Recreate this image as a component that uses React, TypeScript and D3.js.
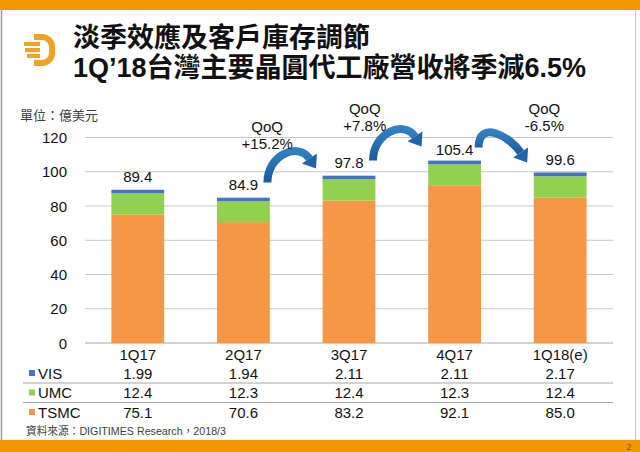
import React from "react";
import * as d3 from "d3";

// ---------- data ----------
const categories = ["1Q17", "2Q17", "3Q17", "4Q17", "1Q18(e)"];
const tsmc = [75.1, 70.6, 83.2, 92.1, 85.0];
const umc = [12.4, 12.3, 12.4, 12.3, 12.4];
const vis = [1.99, 1.94, 2.11, 2.11, 2.17];
const totals = [89.4, 84.9, 97.8, 105.4, 99.6];
const qoqLabels = ["+15.2%", "+7.8%", "-6.5%"]; // between (1,2), (2,3), (3,4)
const qoqFrom = [1, 2, 3];
const yTicks = [0, 20, 40, 60, 80, 100, 120];
const seriesKeys = ["TSMC", "UMC", "VIS"];
const seriesColors: Record<string, string> = { TSMC: "#F79646", UMC: "#92D050", VIS: "#4472C4" };
const tableRows = [
  { name: "VIS", values: vis, fmt: d3.format(".2f") },
  { name: "UMC", values: umc, fmt: d3.format(".1f") },
  { name: "TSMC", values: tsmc, fmt: d3.format(".1f") },
];
const title1 = "淡季效應及客戶庫存調節";
const title2 = "1Q’18台灣主要晶圓代工廠營收將季減6.5%";
const unitLabel = "單位：億美元";
const sourceLabel = "資料來源：DIGITIMES Research，2018/3";

const FONT = "'Liberation Sans', Arial, 'Noto Sans CJK TC', sans-serif";

export default function App() {
  const W = 640, H = 452;
  const x = d3.scaleBand<string>().domain(categories).range([85, 613]).paddingInner(0.5).paddingOuter(0.25);
  const y = d3.scaleLinear().domain([0, 120]).range([343, 137.5]);
  const rows = categories.map((c, i) => ({ cat: c, TSMC: tsmc[i], UMC: umc[i], VIS: vis[i] }));
  const stacked = d3.stack<any>().keys(seriesKeys)(rows);
  const cx = (i: number) => (x(categories[i]) as number) + x.bandwidth() / 2;
  const labelY = (i: number) => y(totals[i]) - 13;

  // arrows
  const qoqDx = [-29, -37, 37];
  const qoqLine2Y = [143, 125, 125];
  const tipDy = [6, -3, 3];
  const arrows = qoqFrom.map((i, k) => {
    const T = { x: cx(i) + 24, y: labelY(i) - 2 };
    const P = { x: cx(i + 1) - 33, y: labelY(i + 1) + tipDy[k] };
    const d = { x: 0.55, y: 0.83 };
    const B = { x: P.x - d.x * 12, y: P.y - d.y * 12 };
    const C1 = { x: T.x, y: T.y - 28 };
    const C2 = { x: B.x - d.x * 20, y: B.y - d.y * 20 };
    const line = `M${T.x},${T.y} C${C1.x},${C1.y} ${C2.x},${C2.y} ${B.x},${B.y}`;
    const nx = -d.y, ny = d.x;
    const hw = 9;
    const head = `M${B.x + nx * hw},${B.y + ny * hw} L${P.x},${P.y} L${B.x - nx * hw},${B.y - ny * hw} Z`;
    const mid = (cx(i) + cx(i + 1)) / 2;
    return { line, head, tx: mid + qoqDx[k], ty: qoqLine2Y[k], label: qoqLabels[k] };
  });

  return (
    <svg width={W} height={H} style={{ position: "absolute", left: 0, top: 0, background: "#fff" }} fontFamily={FONT}>
      <defs>
        <linearGradient id="arrowGrad" x1="0" y1="0" x2="0" y2="1">
          <stop offset="0" stopColor="#2F80C4" />
          <stop offset="1" stopColor="#1C5C9C" />
        </linearGradient>
      </defs>
      <rect x={0} y={0} width={W} height={H} fill="#fff" />
      {/* frame */}
      <rect x={0} y={0} width={W} height={10} fill="#F39800" />
      <rect x={0} y={440} width={W} height={12} fill="#F39800" />
      <line x1={1.5} x2={1.5} y1={10} y2={440} stroke="#9a9a9a" strokeWidth={1.5} />
      <line x1={635.5} x2={635.5} y1={10} y2={440} stroke="#c8c8c8" strokeWidth={1} />
      <text x={629} y={450} fontSize={9} fill="#7a5a2a" textAnchor="middle">2</text>

      {/* logo */}
      <g fill="none" stroke="#EFA224" strokeLinecap="butt">
        <path d="M34,37 H42 A10,10 0 0 1 52,47 V53 A10,10 0 0 1 42,63 H34" strokeWidth={6} />
        <line x1={24} x2={40} y1={44} y2={44} strokeWidth={4} />
        <line x1={25} x2={40} y1={50} y2={50} strokeWidth={4} />
        <line x1={27} x2={40} y1={56} y2={56} strokeWidth={4} />
      </g>

      {/* title */}
      <text x={73} y={47} fontSize={27} fontWeight="bold" fill="#111">{title1}</text>
      <text x={73} y={77} fontSize={27} fontWeight="bold" fill="#111">{title2}</text>

      <text x={20} y={115} fontSize={13} fill="#404040" dominantBaseline="central">{unitLabel}</text>

      {/* grid */}
      {yTicks.map((t) => (
        <g key={t}>
          <line x1={85} x2={613} y1={y(t)} y2={y(t)} stroke={t === 0 ? "#A6A6A6" : "#C8C8C8"} strokeWidth={1} />
          <text x={67} y={y(t)} fontSize={15} textAnchor="end" dominantBaseline="central" fill="#111">{t}</text>
        </g>
      ))}

      {/* bars */}
      {stacked.map((s) => (
        <g key={s.key} fill={seriesColors[s.key]}>
          {s.map((d, i) => (
            <rect key={i} x={x(categories[i])} y={y(d[1])} width={x.bandwidth()} height={y(d[0]) - y(d[1])} />
          ))}
        </g>
      ))}

      {/* totals */}
      {totals.map((t, i) => (
        <text key={i} x={cx(i)} y={labelY(i)} fontSize={15} textAnchor="middle" dominantBaseline="central" fill="#111">
          {d3.format(".1f")(t)}
        </text>
      ))}

      {/* arrows & qoq */}
      {arrows.map((a, k) => (
        <g key={k}>
          <path d={a.line} fill="none" stroke="url(#arrowGrad)" strokeWidth={8} />
          <path d={a.head} fill="#1F64A8" />
          <text x={a.tx} y={a.ty - 17} fontSize={15} textAnchor="middle" dominantBaseline="central" fill="#111">QoQ</text>
          <text x={a.tx} y={a.ty} fontSize={15} textAnchor="middle" dominantBaseline="central" fill="#111">{a.label}</text>
        </g>
      ))}

      {/* category labels */}
      {categories.map((c, i) => (
        <text key={c} x={cx(i)} y={354} fontSize={15} textAnchor="middle" dominantBaseline="central" fill="#111">{c}</text>
      ))}

      {/* table */}
      {tableRows.map((r, ri) => {
        const ry = 373 + ri * 19.5;
        return (
          <g key={r.name}>
            <rect x={29} y={ry - 3} width={6} height={6} fill={seriesColors[r.name]} />
            <text x={38} y={ry} fontSize={15} dominantBaseline="central" fill="#111">{r.name}</text>
            {r.values.map((v, i) => (
              <text key={i} x={cx(i)} y={ry} fontSize={15} textAnchor="middle" dominantBaseline="central" fill="#111">{r.fmt(v)}</text>
            ))}
            {ri < 2 && <line x1={23} x2={613} y1={ry + 10} y2={ry + 10} stroke="#A6A6A6" strokeWidth={1} />}
          </g>
        );
      })}

      <text x={26} y={431} fontSize={11} fill="#404040" dominantBaseline="central" textLength={200} lengthAdjust="spacingAndGlyphs">{sourceLabel}</text>
    </svg>
  );
}
